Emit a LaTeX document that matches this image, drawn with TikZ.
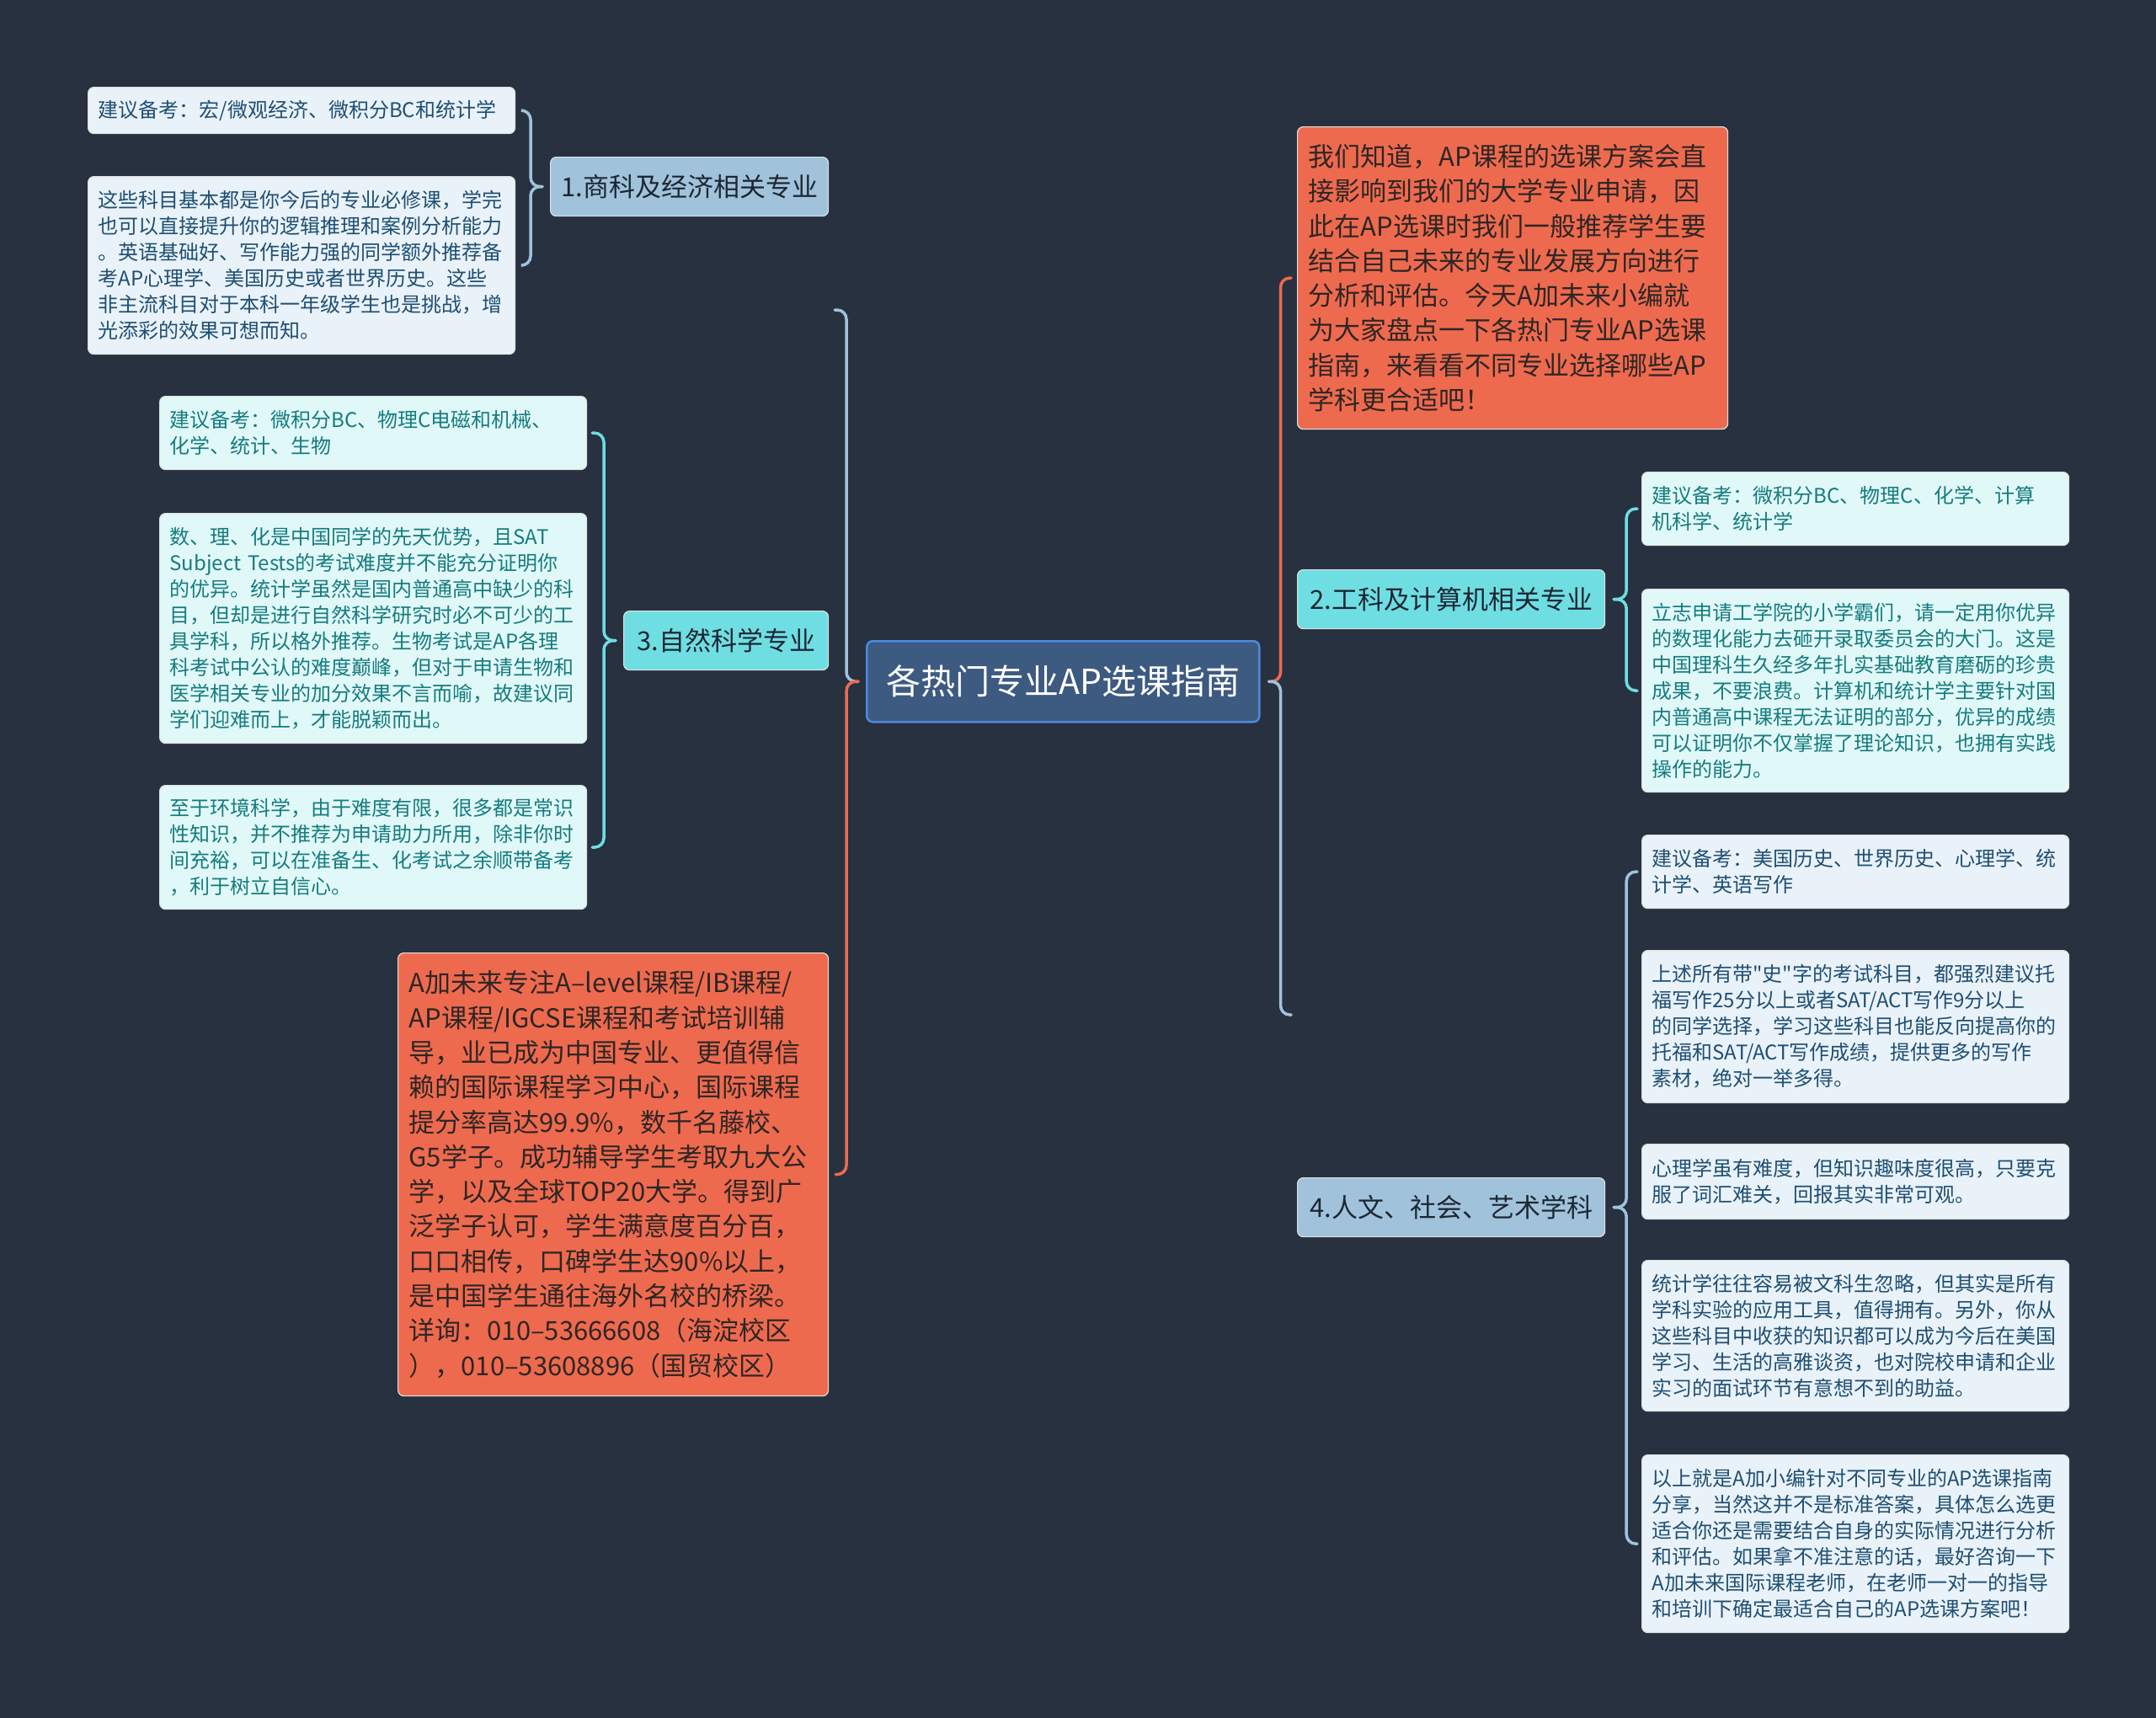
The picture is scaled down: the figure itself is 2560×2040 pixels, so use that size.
\documentclass[tikz,border=0pt]{standalone}
\usepackage{fontspec}
\newfontfamily\cjk{Noto Sans CJK SC}
\usetikzlibrary{calc}

\definecolor{bgnavy}{RGB}{40,49,64}
\definecolor{centfill}{RGB}{61,90,128}
\definecolor{centline}{RGB}{77,137,222}
\definecolor{steel}{RGB}{160,195,219}
\definecolor{aqua}{RGB}{111,222,227}
\definecolor{orng}{RGB}{238,106,79}
\definecolor{steelleaf}{RGB}{233,242,248}
\definecolor{aqualeaf}{RGB}{225,248,248}
\definecolor{steeltxt}{RGB}{31,79,114}
\definecolor{aquatxt}{RGB}{22,124,126}
\definecolor{topictxt}{RGB}{29,38,51}
\definecolor{orngtxt}{RGB}{45,38,36}

\begin{document}
\begin{tikzpicture}[x=1pt,y=-1pt,
    box/.style={rounded corners=7,anchor=north west,draw=white!88!black,line width=1.2},
    topic/.style={box,font=\cjk\fontsize{31}{40}\selectfont,text=topictxt,minimum height=70,inner sep=0},
    leaf/.style={box,font=\cjk\fontsize{24}{31}\selectfont,text width=483,inner xsep=12,inner ysep=0,align=left},
    sleaf/.style={leaf,fill=steelleaf,text=steeltxt},
    aleaf/.style={leaf,fill=aqualeaf,text=aquatxt},
    note/.style={box,fill=orng,font=\cjk\fontsize{31}{41.3}\selectfont,text=orngtxt,text width=485,inner xsep=13,inner ysep=0,align=left},
    arm/.style={rounded corners=11,line width=3.5,line cap=round}]
  \fill[bgnavy] (0,0) rectangle (2560,2040);
  \useasboundingbox (0,0) rectangle (2560,2040);

  % centre
  \node[box,fill=centfill,draw=centline,line width=2.5,minimum width=466,minimum height=96,inner sep=0,
    text=white,font=\cjk\fontsize{41}{48}\selectfont] (c) at (1028,760) {各热门专业AP选课指南};

  % left half
  \node[topic,fill=steel,minimum width=330] (t1) at (653,186) {1.商科及经济相关专业};
  \node[sleaf,minimum height=55] (a1) at (104,103) {建议备考：宏/微观经济、微积分BC和统计学};
  \node[sleaf,minimum height=211] (a2) at (104,209) {这些科目基本都是你今后的专业必修课，学完\\也可以直接提升你的逻辑推理和案例分析能力\\。英语基础好、写作能力强的同学额外推荐备\\考AP心理学、美国历史或者世界历史。这些\\非主流科目对于本科一年级学生也是挑战，增\\光添彩的效果可想而知。};

  \node[topic,fill=aqua,minimum width=243] (t3) at (740,725) {3.自然科学专业};
  \node[aleaf,minimum height=87] (b1) at (189,470) {建议备考：微积分BC、物理C电磁和机械、\\化学、统计、生物};
  \node[aleaf,minimum height=273] (b2) at (189,609) {数、理、化是中国同学的先天优势，且SAT\\Subject Tests的考试难度并不能充分证明你\\的优异。统计学虽然是国内普通高中缺少的科\\目，但却是进行自然科学研究时必不可少的工\\具学科，所以格外推荐。生物考试是AP各理\\科考试中公认的难度巅峰，但对于申请生物和\\医学相关专业的加分效果不言而喻，故建议同\\学们迎难而上，才能脱颖而出。};
  \node[aleaf,minimum height=147] (b3) at (189,932) {至于环境科学，由于难度有限，很多都是常识\\性知识，并不推荐为申请助力所用，除非你时\\间充裕，可以在准备生、化考试之余顺带备考\\，利于树立自信心。};

  \node[note,minimum height=526] (ad) at (472,1131) {A加未来专注A–level课程/IB课程/\\AP课程/IGCSE课程和考试培训辅\\导，业已成为中国专业、更值得信\\赖的国际课程学习中心，国际课程\\提分率高达99.9\%，数千名藤校、\\G5学子。成功辅导学生考取九大公\\学，以及全球TOP20大学。得到广\\泛学子认可，学生满意度百分百，\\口口相传，口碑学生达90\%以上，\\是中国学生通往海外名校的桥梁。\\详询：010–53666608（海淀校区\\），010–53608896（国贸校区）};

  % right half
  \node[note,minimum height=359] (intro) at (1540,150) {我们知道，AP课程的选课方案会直\\接影响到我们的大学专业申请，因\\此在AP选课时我们一般推荐学生要\\结合自己未来的专业发展方向进行\\分析和评估。今天A加未来小编就\\为大家盘点一下各热门专业AP选课\\指南，来看看不同专业选择哪些AP\\学科更合适吧！};

  \node[topic,fill=aqua,minimum width=365] (t2) at (1540,676) {2.工科及计算机相关专业};
  \node[aleaf,minimum height=87] (r1) at (1949,560) {建议备考：微积分BC、物理C、化学、计算\\机科学、统计学};
  \node[aleaf,minimum height=241] (r2) at (1949,699) {立志申请工学院的小学霸们，请一定用你优异\\的数理化能力去砸开录取委员会的大门。这是\\中国理科生久经多年扎实基础教育磨砺的珍贵\\成果，不要浪费。计算机和统计学主要针对国\\内普通高中课程无法证明的部分，优异的成绩\\可以证明你不仅掌握了理论知识，也拥有实践\\操作的能力。};

  \node[topic,fill=steel,minimum width=365] (t4) at (1540,1398) {4.人文、社会、艺术学科};
  \node[sleaf,minimum height=87] (s1) at (1949,991) {建议备考：美国历史、世界历史、心理学、统\\计学、英语写作};
  \node[sleaf,minimum height=181] (s2) at (1949,1128) {上述所有带"史"字的考试科目，都强烈建议托\\福写作25分以上或者SAT/ACT写作9分以上\\的同学选择，学习这些科目也能反向提高你的\\托福和SAT/ACT写作成绩，提供更多的写作\\素材，绝对一举多得。};
  \node[sleaf,minimum height=89] (s3) at (1949,1358) {心理学虽有难度，但知识趣味度很高，只要克\\服了词汇难关，回报其实非常可观。};
  \node[sleaf,minimum height=179] (s4) at (1949,1496) {统计学往往容易被文科生忽略，但其实是所有\\学科实验的应用工具，值得拥有。另外，你从\\这些科目中收获的知识都可以成为今后在美国\\学习、生活的高雅谈资，也对院校申请和企业\\实习的面试环节有意想不到的助益。};
  \node[sleaf,minimum height=211] (s5) at (1949,1727) {以上就是A加小编针对不同专业的AP选课指南\\分享，当然这并不是标准答案，具体怎么选更\\适合你还是需要结合自身的实际情况进行分析\\和评估。如果拿不准注意的话，最好咨询一下\\A加未来国际课程老师，在老师一对一的指导\\和培训下确定最适合自己的AP选课方案吧！};

  % braces
  \coordinate (ltop) at (991,368);
  \coordinate (rbot) at (1533,1205);
  \draw[arm,steel] ([xshift=-9]c.west) -| ($(c.west |- ltop)+(-23,0)$) -- (ltop);
  \draw[arm,orng] ([xshift=-9]c.west) -| ($(c.west |- ad.east)+(-23,0)$) -- ([xshift=8]ad.east);
  \draw[arm,orng] ([xshift=10]c.east) -| ($(c.east |- intro.west)+(24,0)$) -- ([xshift=-7]intro.west);
  \draw[arm,steel] ([xshift=10]c.east) -| ($(c.east |- rbot)+(24,0)$) -- (rbot);
  \foreach \k in {a1,a2}
    \draw[arm,steel] ([xshift=-9]t1.west) -| ($(t1.west |- \k.east)+(-23,0)$) -- ([xshift=8]\k.east);
  \foreach \k in {b1,b3}
    \draw[arm,aqua] ([xshift=-9]t3.west) -| ($(t3.west |- \k.east)+(-23,0)$) -- ([xshift=6]\k.east);
  \foreach \k in {r1,r2}
    \draw[arm,aqua] ([xshift=10]t2.east) -| ($(t2.east |- \k.west)+(25,0)$) -- ([xshift=-5]\k.west);
  \foreach \k in {s1,s5}
    \draw[arm,steel] ([xshift=10]t4.east) -| ($(t4.east |- \k.west)+(25,0)$) -- ([xshift=-5]\k.west);
\end{tikzpicture}
\end{document}
